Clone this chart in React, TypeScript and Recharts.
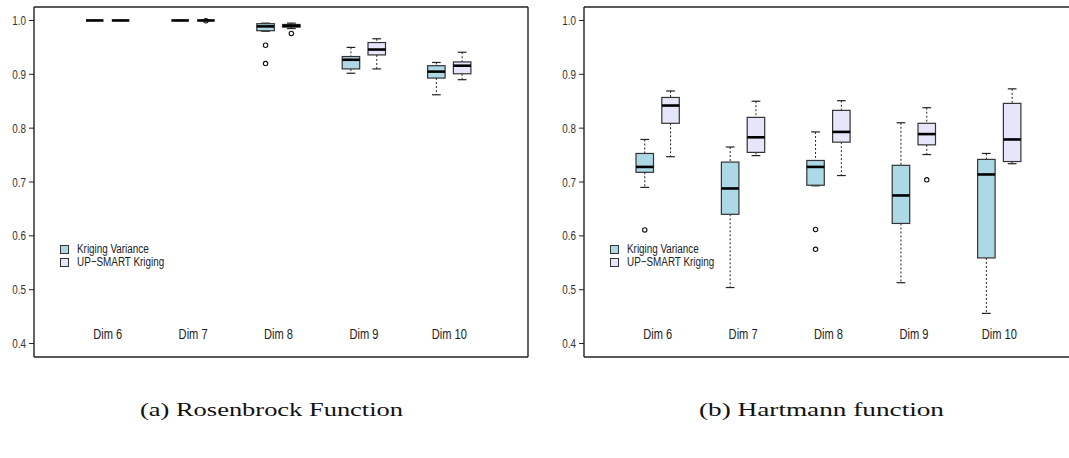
import React from 'react';
import { ComposedChart, Bar, XAxis, YAxis } from 'recharts';

const categories = ['Dim 6', 'Dim 7', 'Dim 8', 'Dim 9', 'Dim 10'];
const yTicks = [0.4, 0.5, 0.6, 0.7, 0.8, 0.9, 1.0];
const seriesNames = ['Kriging Variance', 'UP-SMART Kriging'];
const captions = ['(a) Rosenbrock Function', '(b) Hartmann function'];

// [lower whisker, q1, median, q3, upper whisker]
const rosenbrockKriging = [
  [1, 1, 1, 1, 1],
  [1, 1, 1, 1, 1],
  [0.98, 0.981, 0.989, 0.994, 0.995],
  [0.902, 0.91, 0.927, 0.933, 0.95],
  [0.862, 0.893, 0.905, 0.916, 0.922],
];
const rosenbrockKrigingOut = [[], [], [0.954, 0.92], [], []];
const rosenbrockSmart = [
  [1, 1, 1, 1, 1],
  [1, 1, 1, 1, 1],
  [0.985, 0.9877, 0.99, 0.9926, 0.995],
  [0.91, 0.936, 0.946, 0.959, 0.966],
  [0.89, 0.901, 0.916, 0.923, 0.941],
];
const rosenbrockSmartOut = [[], [0.9995], [0.976], [], []];

const hartmannKriging = [
  [0.69, 0.718, 0.728, 0.753, 0.779],
  [0.504, 0.64, 0.688, 0.737, 0.765],
  [0.693, 0.694, 0.728, 0.74, 0.793],
  [0.513, 0.623, 0.675, 0.731, 0.81],
  [0.456, 0.559, 0.714, 0.742, 0.753],
];
const hartmannKrigingOut = [[0.611], [], [0.612, 0.575], [], []];
const hartmannSmart = [
  [0.747, 0.809, 0.842, 0.857, 0.869],
  [0.749, 0.755, 0.783, 0.82, 0.85],
  [0.712, 0.774, 0.793, 0.833, 0.851],
  [0.751, 0.769, 0.789, 0.809, 0.838],
  [0.734, 0.738, 0.779, 0.846, 0.873],
];
const hartmannSmartOut = [[], [], [], [0.704], []];

const KV_FILL = '#add8e6';
const UP_FILL = '#e6e6fa';
const FONT = '"Liberation Sans", Arial, sans-serif';
const Y_MIN = yTicks[0];
const Y_MAX = yTicks[yTicks.length - 1];

const BoxShape = (props: any) => {
  const { x, y, width, height, payload, statKey, outKey, fill } = props;
  const stats: number[] = payload[statKey];
  const outliers: number[] = payload[outKey];
  const top = Math.min(y, y + height);
  const h = Math.abs(height);
  // the bar spans [Y_MIN, Y_MAX], so its pixels give the axis scale
  const py = (v: number) => top + ((Y_MAX - v) / (Y_MAX - Y_MIN)) * h;
  const [lo, q1, med, q3, hi] = stats;
  const cx = x + width / 2;
  const cap = width / 4;
  return (
    <g>
      <line x1={cx} x2={cx} y1={py(hi)} y2={py(q3)} stroke="#222" strokeDasharray="2 2" />
      <line x1={cx} x2={cx} y1={py(q1)} y2={py(lo)} stroke="#222" strokeDasharray="2 2" />
      <line x1={cx - cap} x2={cx + cap} y1={py(hi)} y2={py(hi)} stroke="#222" strokeWidth={1.2} />
      <line x1={cx - cap} x2={cx + cap} y1={py(lo)} y2={py(lo)} stroke="#222" strokeWidth={1.2} />
      <rect x={x} y={py(q3)} width={width} height={py(q1) - py(q3)} fill={fill} stroke="#333" strokeWidth={1.2} />
      <line x1={x} x2={x + width} y1={py(med)} y2={py(med)} stroke="#000" strokeWidth={2.6} />
      {outliers.map((o, i) => (
        <circle key={i} cx={cx} cy={py(o)} r={2.2} fill="none" stroke="#111" strokeWidth={1.1} />
      ))}
    </g>
  );
};

// the reference uses a tall, condensed Helvetica, so the glyphs are squeezed
const DimTick = (props: any) => {
  const { x, y, payload } = props;
  return (
    <text
      transform={`translate(${x},${y - 18}) scale(0.74,1)`}
      textAnchor="middle"
      fontFamily={FONT}
      fontSize={15}
      fill="#222"
    >
      {payload.value}
    </text>
  );
};

const ValueTick = (props: any) => {
  const { x, y, payload } = props;
  return (
    <text
      transform={`translate(${x},${y}) scale(0.76,1)`}
      textAnchor="end"
      dominantBaseline="central"
      fontFamily={FONT}
      fontSize={13}
      fill="#333"
    >
      {Number(payload.value).toFixed(1)}
    </text>
  );
};

type BoxChartProps = {
  kv: number[][];
  kvOut: number[][];
  up: number[][];
  upOut: number[][];
  left: number;
};

const BoxChart: React.FC<BoxChartProps> = ({ kv, kvOut, up, upOut, left }) => {
  const data = categories.map((name, i) => ({
    name,
    kv: kv[i],
    kvOut: kvOut[i],
    up: up[i],
    upOut: upOut[i],
    kvSpan: [Y_MIN, Y_MAX],
    upSpan: [Y_MIN, Y_MAX],
  }));

  return (
    <div style={{ position: 'absolute', left, top: 0 }}>
      <ComposedChart
        width={540}
        height={370}
        data={data}
        margin={{ top: 6, right: 11, bottom: 12, left: 8 }}
        barSize={17.5}
        barGap={8.3}
      >
        <XAxis
          xAxisId="bottom"
          dataKey="name"
          height={1}
          padding={{ left: 31, right: 36 }}
          interval={0}
          tickLine={false}
          tickSize={0}
          tickMargin={0}
          axisLine={{ stroke: '#222', strokeWidth: 1.4 }}
          tick={<DimTick />}
        />
        <XAxis
          xAxisId="top"
          orientation="top"
          dataKey="name"
          height={1}
          tick={false}
          tickLine={false}
          axisLine={{ stroke: '#222', strokeWidth: 1.4 }}
        />
        <YAxis
          yAxisId="left"
          width={26}
          domain={[0.375, 1.025]}
          ticks={yTicks}
          tickSize={5}
          tickMargin={3}
          tick={<ValueTick />}
          tickLine={{ stroke: '#222' }}
          axisLine={{ stroke: '#222', strokeWidth: 1.4 }}
        />
        <YAxis
          yAxisId="right"
          orientation="right"
          width={1}
          domain={[0.375, 1.025]}
          tick={false}
          tickLine={false}
          axisLine={{ stroke: '#222', strokeWidth: 1.4 }}
        />
        <Bar
          xAxisId="bottom"
          yAxisId="left"
          dataKey="kvSpan"
          name={seriesNames[0]}
          isAnimationActive={false}
          shape={(p: any) => <BoxShape {...p} statKey="kv" outKey="kvOut" fill={KV_FILL} />}
        />
        <Bar
          xAxisId="bottom"
          yAxisId="left"
          dataKey="upSpan"
          name={seriesNames[1]}
          isAnimationActive={false}
          shape={(p: any) => <BoxShape {...p} statKey="up" outKey="upOut" fill={UP_FILL} />}
        />
      </ComposedChart>
      <div
        style={{
          position: 'absolute',
          left: 60,
          top: 243,
          fontFamily: FONT,
          fontSize: 12.5,
          color: '#222',
          lineHeight: '13.3px',
        }}
      >
        {seriesNames.map((s, i) => (
          <div key={s} style={{ display: 'flex', alignItems: 'center', whiteSpace: 'nowrap' }}>
            <span
              style={{
                display: 'inline-block',
                width: 7,
                height: 7,
                border: '1px solid #333',
                background: i === 0 ? KV_FILL : UP_FILL,
                marginRight: 8,
              }}
            />
            <span style={{ display: 'inline-block', transform: 'scaleX(0.79)', transformOrigin: 'left center' }}>
              {s.replace('-', '\u2212')}
            </span>
          </div>
        ))}
      </div>
    </div>
  );
};

export default function App() {
  return (
    <div
      style={{
        position: 'absolute',
        left: 0,
        top: 0,
        width: 1069,
        height: 458,
        overflow: 'hidden',
        background: '#fff',
      }}
    >
      <BoxChart kv={rosenbrockKriging} kvOut={rosenbrockKrigingOut} up={rosenbrockSmart} upOut={rosenbrockSmartOut} left={0} />
      <BoxChart kv={hartmannKriging} kvOut={hartmannKrigingOut} up={hartmannSmart} upOut={hartmannSmartOut} left={550} />
      <svg width={1069} height={458} style={{ position: 'absolute', left: 0, top: 0, pointerEvents: 'none' }}>
        <text x={140} y={416} fontFamily='"Liberation Serif", serif' fontSize={19} fill="#111" textLength={263} lengthAdjust="spacingAndGlyphs">
          {captions[0]}
        </text>
        <text x={699} y={416} fontFamily='"Liberation Serif", serif' fontSize={19} fill="#111" textLength={245} lengthAdjust="spacingAndGlyphs">
          {captions[1]}
        </text>
      </svg>
    </div>
  );
}
